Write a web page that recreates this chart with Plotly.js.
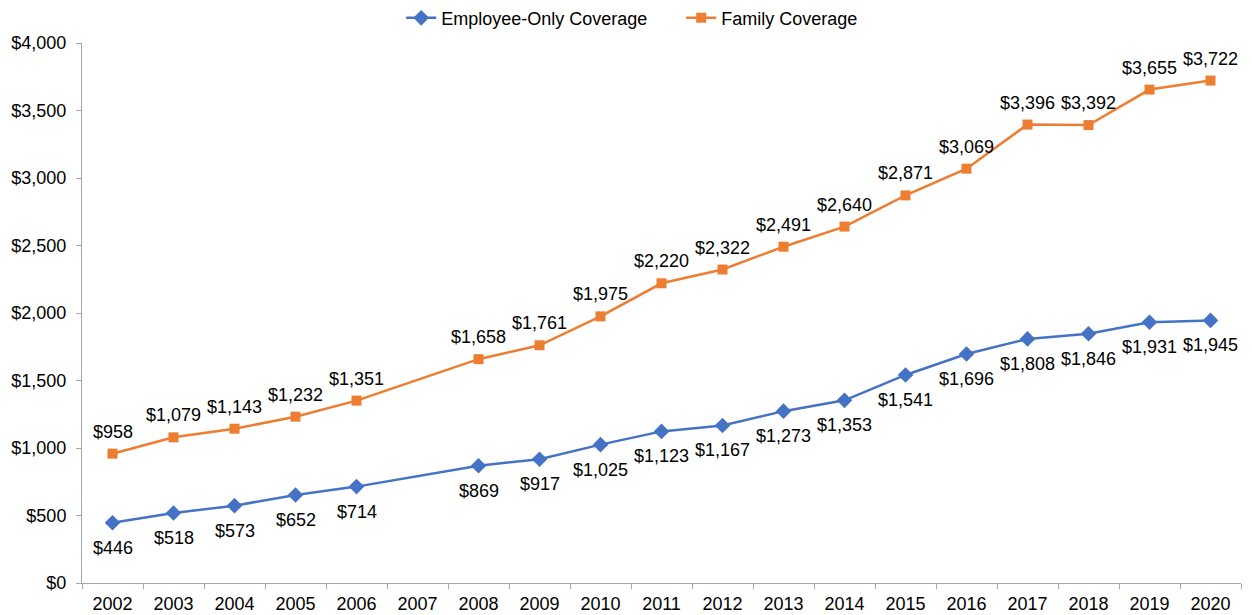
<!DOCTYPE html>
<html><head><meta charset="utf-8">
<script src="https://cdn.plot.ly/plotly-3.0.1.min.js"></script>
<style>html,body{margin:0;padding:0;background:#fff}#chart{width:1252px;height:615px}</style>
</head><body><div id="chart"></div>
<script>
const years = ["2002","2003","2004","2005","2006","2007","2008","2009","2010","2011","2012","2013","2014","2015","2016","2017","2018","2019","2020"];
const employeeOnly = [446,518,573,652,714,null,869,917,1025,1123,1167,1273,1353,1541,1696,1808,1846,1931,1945];
const family = [958,1079,1143,1232,1351,null,1658,1761,1975,2220,2322,2491,2640,2871,3069,3396,3392,3655,3722];
const yTicks = [0,500,1000,1500,2000,2500,3000,3500,4000];

const fmt = v => v == null ? "" : "$" + v.toLocaleString("en-US");
const font = {family: "Liberation Sans, Arial, sans-serif", size: 18, color: "#000"};

const traces = [
  {x: years, y: employeeOnly, name: "Employee-Only Coverage", type: "scatter", mode: "lines+markers",
   connectgaps: true, line: {color: "#4472C4", width: 2.5}, marker: {symbol: "diamond", size: 12, color: "#4472C4"},
   cliponaxis: false, hoverinfo: "x+y"},
  {x: years, y: family, name: "Family Coverage", type: "scatter", mode: "lines+markers",
   connectgaps: true, line: {color: "#ED7D31", width: 2.5}, marker: {symbol: "square", size: 10, color: "#ED7D31"},
   cliponaxis: false, hoverinfo: "x+y"}
];

// data labels placed through the category axis (index of each year) and the value axis
const annotations = [];
years.forEach((yr, i) => {
  if (employeeOnly[i] != null) annotations.push({x: i, y: employeeOnly[i], xref: "x", yref: "y", text: fmt(employeeOnly[i]),
    showarrow: false, yshift: -25, font: font});
  if (family[i] != null) annotations.push({x: i, y: family[i], xref: "x", yref: "y", text: fmt(family[i]),
    showarrow: false, yshift: 22, font: font});
});

const layout = {
  width: 1252, height: 615,
  margin: {l: 82, r: 11, t: 43, b: 32, autoexpand: false},
  paper_bgcolor: "#fff", plot_bgcolor: "#fff",
  font: font,
  showlegend: true,
  annotations: annotations,
  legend: {orientation: "h", x: 0.517, xanchor: "center", y: 1.046, yanchor: "middle", font: font, traceorder: "normal", entrywidth: 235},
  xaxis: {type: "category", categoryorder: "array", categoryarray: years, tickvals: years, range: [-0.5, 18.5], autorange: false,
          showline: true, linecolor: "#a6a6a6", linewidth: 1, ticks: "outside", tickson: "boundaries",
          ticklen: 5, tickcolor: "#a6a6a6", showgrid: false, zeroline: false, tickfont: font, fixedrange: true,
          ticklabelstandoff: 4},
  yaxis: {range: [0, 4000], autorange: false, tickvals: yTicks, ticktext: yTicks.map(fmt), showline: true, linecolor: "#a6a6a6",
          linewidth: 1, ticks: "outside", ticklen: 5, tickcolor: "#a6a6a6", showgrid: false, zeroline: false,
          tickfont: font, fixedrange: true, ticklabelstandoff: 6}
};

Plotly.newPlot("chart", traces, layout, {displayModeBar: false, staticPlot: true});
</script></body></html>
